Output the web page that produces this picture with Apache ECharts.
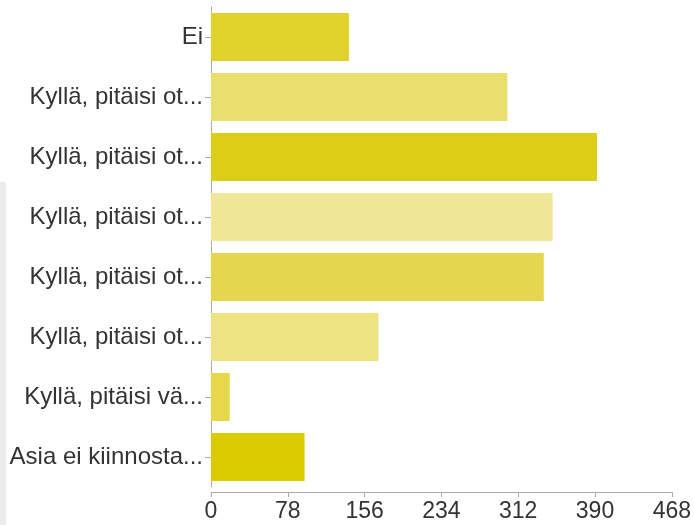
<!DOCTYPE html>
<html>
<head>
<meta charset="utf-8">
<script src="https://cdn.jsdelivr.net/npm/echarts@6/dist/echarts.min.js"></script>
<style>
html,body{margin:0;padding:0;background:#fff;}
#chart{width:694px;height:525px;}
</style>
</head>
<body>
<div id="chart"></div>
<script>
// answers, top to bottom
var categories = ['Ei', 'Kyllä, pitäisi ot...', 'Kyllä, pitäisi ot...', 'Kyllä, pitäisi ot...',
  'Kyllä, pitäisi ot...', 'Kyllä, pitäisi ot...', 'Kyllä, pitäisi vä...', 'Asia ei kiinnosta...'];
var counts = [140, 301, 392, 347, 338, 170, 19, 95];
var ticks = [0, 78, 156, 234, 312, 390, 468];

var barColors = ['#e0d22b', '#e9df6e', '#dccd17', '#efe697', '#e4d74f', '#ede383', '#e6d84a', '#dbcb00'];

var chart = echarts.init(document.getElementById('chart'));

var items = [];
for (var i = 0; i < counts.length; i++) {
  items.push({value: counts[i], itemStyle: {color: barColors[i]}});
}

chart.setOption({
  animation: false,
  graphic: [{
    type: 'rect',
    shape: {x: 0, y: 182, width: 6, height: 343},
    style: {fill: '#ececec'}
  }],
  grid: {left: 211, right: 20, top: 7, bottom: 38},
  xAxis: {
    type: 'value',
    min: ticks[0],
    max: ticks[ticks.length - 1],
    interval: 78,
    offset: 5,
    splitLine: {show: false},
    axisLine: {show: true, lineStyle: {color: '#aaa', width: 1}},
    axisTick: {show: true, length: 5, lineStyle: {color: '#aaa'}},
    axisLabel: {
      color: '#333', fontSize: 23, fontFamily: 'Liberation Sans', margin: 8,
      formatter: function (v) { return ticks.indexOf(v) >= 0 ? String(v) : ''; }
    }
  },
  yAxis: {
    type: 'category',
    inverse: true,
    data: categories,
    axisLine: {show: true, lineStyle: {color: '#aaa', width: 1}},
    axisTick: {show: true, alignWithLabel: true, length: 6, lineStyle: {color: '#aaa'}},
    axisLabel: {color: '#333', fontSize: 24, fontFamily: 'Liberation Sans', margin: 8}
  },
  series: [{
    type: 'bar',
    data: items,
    barCategoryGap: '20%'
  }]
});
</script>
</body>
</html>
